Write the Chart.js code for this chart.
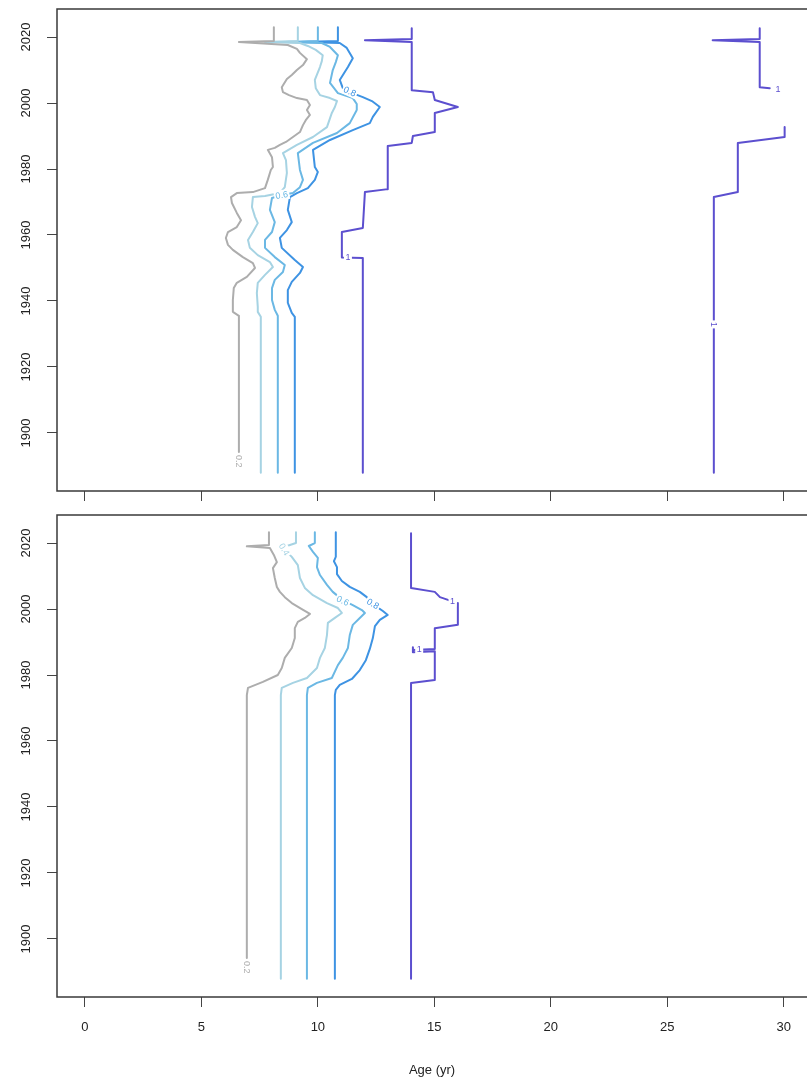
<!DOCTYPE html>
<html>
<head>
<meta charset="utf-8">
<script src="https://cdn.jsdelivr.net/npm/chart.js@4.4.0/dist/chart.umd.min.js"></script>
<style>
html,body{margin:0;padding:0;background:#fff;overflow:hidden;width:807px;height:1090px}
.wrap{position:absolute;left:0;width:807px}
</style>
</head>
<body>
<div class="wrap" style="top:0;height:505px"><canvas id="c1"></canvas></div>
<div class="wrap" style="top:505px;height:585px"><canvas id="c2"></canvas></div>
<script>
// ---------- axis ticks ----------
const xTicks = [0, 5, 10, 15, 20, 25, 30];
const yTicks = [1900, 1920, 1940, 1960, 1980, 2000, 2020];
const xRange = [-1.2, 31.0];
const yRange = [1882.4, 2028.5];
const levelNames = ['0.2', '0.4', '0.6', '0.8', '1'];

// ---------- top panel contour lines: [age, year] ----------
const top02 = [[8.11,2023.0],[8.11,2018.8],[6.61,2018.5],[8.71,2017.6],[9.10,2016.4],[9.23,2015.2],[9.53,2013.3],[9.36,2011.5],[9.10,2010.0],[8.88,2008.5],[8.67,2007.3],[8.45,2004.8],[8.50,2003.3],[8.76,2002.4],[9.10,2001.5],[9.53,2000.9],[9.66,1999.4],[9.53,1997.9],[9.66,1996.4],[9.48,1994.8],[9.36,1993.3],[9.23,1991.2],[8.93,1989.7],[8.63,1988.2],[8.37,1987.3],[8.15,1986.4],[7.85,1985.8],[8.03,1983.6],[8.07,1980.6],[7.98,1979.7],[7.85,1976.7],[7.73,1974.2],[7.21,1973.0],[6.52,1972.7],[6.27,1971.5],[6.31,1969.7],[6.52,1966.7],[6.70,1964.5],[6.52,1962.4],[6.14,1960.9],[6.05,1959.1],[6.14,1957.0],[6.35,1955.5],[6.78,1953.3],[7.21,1951.5],[7.30,1950.0],[6.95,1947.3],[6.52,1945.5],[6.39,1943.9],[6.35,1940.3],[6.35,1936.7],[6.61,1935.5],[6.61,1894.2]];
const top04 = [[9.14,2023.0],[9.14,2018.8],[7.73,2018.5],[9.23,2018.2],[9.57,2017.3],[9.91,2016.1],[10.21,2014.5],[10.17,2012.7],[10.09,2010.9],[9.87,2007.0],[9.91,2004.5],[10.09,2002.4],[10.52,2001.5],[10.82,2000.6],[10.73,1998.8],[10.60,1997.0],[10.39,1992.7],[9.79,1989.7],[9.10,1987.3],[8.50,1984.8],[8.63,1982.7],[8.67,1978.8],[8.58,1974.5],[8.37,1972.7],[7.73,1971.8],[7.21,1971.5],[7.17,1968.5],[7.30,1965.5],[7.42,1963.6],[7.21,1960.9],[7.00,1958.5],[7.08,1956.1],[7.42,1953.9],[7.94,1951.8],[8.07,1950.3],[7.73,1947.9],[7.42,1945.5],[7.38,1942.4],[7.42,1938.2],[7.42,1936.7],[7.55,1935.2],[7.55,1887.9]];
const top06 = [[10.00,2023.0],[10.00,2018.8],[8.58,2018.5],[10.17,2018.2],[10.52,2017.0],[10.86,2014.5],[10.77,2012.4],[10.64,2010.0],[10.52,2006.1],[10.86,2003.0],[11.50,2001.5],[11.67,1999.7],[11.67,1997.9],[11.37,1993.9],[10.82,1990.9],[9.79,1987.9],[9.14,1984.8],[9.23,1979.7],[9.36,1976.7],[9.23,1974.5],[8.93,1972.7],[8.45,1972.1],[8.03,1971.2],[7.94,1967.6],[8.15,1963.9],[8.03,1960.9],[7.73,1958.5],[7.73,1956.1],[8.15,1953.3],[8.58,1950.9],[8.50,1948.8],[8.15,1946.4],[8.03,1943.9],[8.03,1940.3],[8.15,1937.3],[8.28,1935.5],[8.28,1887.9]];
const top08 = [[10.86,2023.0],[10.86,2018.8],[9.23,2018.5],[10.94,2018.2],[11.24,2016.7],[11.50,2013.6],[11.29,2010.9],[10.94,2007.0],[11.07,2004.5],[11.37,2003.3],[11.93,2001.8],[12.32,2000.6],[12.66,1998.8],[12.36,1995.8],[12.23,1993.9],[11.50,1991.8],[10.52,1988.8],[9.79,1985.8],[9.87,1980.6],[10.00,1979.1],[9.87,1976.7],[9.57,1974.2],[9.10,1972.7],[8.80,1971.5],[8.71,1967.6],[8.88,1963.9],[8.67,1961.5],[8.37,1959.1],[8.45,1956.1],[9.01,1952.4],[9.36,1950.3],[9.23,1948.5],[8.88,1945.8],[8.71,1943.3],[8.71,1939.4],[8.88,1936.4],[9.01,1935.2],[9.01,1887.9]];
const top1a = [[14.03,2022.7],[14.03,2019.4],[12.02,2019.0],[14.03,2018.5],[14.03,2003.9],[14.94,2003.3],[15.02,2000.9],[16.01,1998.8],[15.02,1997.0],[15.02,1991.2],[14.08,1990.0],[14.03,1987.9],[13.00,1987.0],[13.00,1973.9],[12.02,1973.0],[11.93,1962.1],[11.03,1960.9],[11.03,1953.2],[11.93,1953.0],[11.93,1887.9]];
const top1b = [[28.97,2022.7],[28.97,2019.4],[26.95,2019.0],[28.97,2018.5],[28.97,2004.8],[29.40,2004.5]];
const top1c = [[30.04,1992.7],[30.04,1989.7],[28.03,1987.9],[28.03,1973.0],[27.00,1971.5],[27.00,1887.9]];

// ---------- bottom panel contour lines: [age, year] ----------
const bot02 = [[7.90,2023.3],[7.90,2019.4],[6.95,2019.0],[7.94,2018.5],[8.11,2016.4],[8.24,2014.2],[8.07,2012.4],[8.15,2009.4],[8.24,2006.7],[8.37,2005.2],[8.58,2003.6],[8.88,2001.8],[9.31,2000.0],[9.66,1998.5],[9.44,1997.3],[9.14,1996.1],[9.01,1994.2],[9.01,1991.2],[8.88,1988.2],[8.58,1985.2],[8.45,1982.1],[8.28,1980.0],[7.64,1977.9],[7.00,1976.1],[6.95,1973.9],[6.95,1894.2]];
const bot04 = [[9.06,2023.3],[9.06,2020.0],[8.67,2019.1],[8.54,2018.2],[8.88,2015.8],[9.14,2013.3],[9.23,2009.4],[9.44,2006.4],[9.79,2004.2],[10.39,2001.8],[10.86,2000.3],[11.03,1998.8],[10.73,1997.3],[10.43,1995.8],[10.39,1992.1],[10.30,1988.2],[10.09,1985.2],[9.96,1982.1],[9.53,1979.1],[8.93,1977.6],[8.45,1976.1],[8.41,1973.9],[8.41,1887.9]];
const bot06 = [[9.87,2023.3],[9.87,2020.0],[9.61,2019.1],[9.79,2017.3],[10.00,2015.5],[9.96,2012.7],[10.09,2010.3],[10.39,2007.3],[10.64,2005.2],[11.07,2002.7],[11.50,2001.2],[11.89,1999.7],[12.02,1998.8],[11.80,1997.3],[11.50,1995.2],[11.37,1992.1],[11.29,1988.2],[11.07,1985.2],[10.86,1983.0],[10.60,1979.1],[9.96,1977.6],[9.57,1976.1],[9.53,1973.9],[9.53,1887.9]];
const bot08 = [[10.77,2023.3],[10.77,2015.8],[10.69,2014.5],[10.82,2012.7],[10.82,2010.6],[11.03,2008.5],[11.37,2006.7],[11.80,2005.2],[12.10,2003.6],[12.36,2001.5],[12.79,1999.4],[13.00,1998.2],[12.66,1996.7],[12.45,1994.8],[12.36,1991.2],[12.23,1987.9],[12.06,1984.5],[11.80,1981.5],[11.46,1978.8],[10.94,1977.0],[10.77,1975.5],[10.73,1973.9],[10.73,1887.9]];
const bot1a = [[14.00,2023.0],[14.00,2006.4],[15.02,2005.2],[15.24,2003.6],[15.62,2002.7]];
const bot1b = [[16.01,2001.8],[16.01,1995.2],[15.02,1994.2],[15.02,1987.9],[14.08,1987.6],[14.08,1988.4],[14.08,1986.9],[15.02,1987.2],[15.02,1978.5],[14.00,1977.6],[14.00,1887.9]];

// ---------- contour labels: [age, year, level index, angle] ----------
const topLabels = [[6.61,1891.4,0,90],[8.45,1972.1,2,-10],[11.37,2003.5,3,25],[11.29,1953.3,4,0],[29.75,2004.3,4,0],[27.00,1932.9,4,90]];
const botLabels = [[6.95,1891.4,0,90],[8.56,2018.1,1,60],[11.07,2002.5,2,25],[12.36,2001.6,3,30],[15.78,2002.3,4,0],[14.35,1987.8,4,0]];

const lineColors = ['#adadad', '#a6d3e3', '#6bb8e4', '#3e93e3', '#5c4fcf'];
const FONT = '"Liberation Sans", Arial, Helvetica, sans-serif';

function ds(arr, lvl) {
  return {
    label: levelNames[lvl],
    data: arr.map(p => ({x: p[0], y: p[1]})),
    showLine: true, borderColor: lineColors[lvl], backgroundColor: lineColors[lvl],
    borderWidth: 2, pointRadius: 0, pointHoverRadius: 0, tension: 0, fill: false,
    borderJoinStyle: 'round', borderCapStyle: 'round'
  };
}

const boxPlugin = {
  id: 'box',
  afterDraw(chart) {
    const {ctx, chartArea: a} = chart;
    ctx.save();
    ctx.strokeStyle = '#3a3a3a'; ctx.lineWidth = 1.5;
    ctx.beginPath();
    ctx.moveTo(a.right + 2, a.top); ctx.lineTo(a.left, a.top);
    ctx.lineTo(a.left, a.bottom); ctx.lineTo(a.right + 2, a.bottom);
    ctx.stroke();
    ctx.restore();
  }
};

function labelPlugin(items) {
  return {
    id: 'contourLabels',
    afterDatasetsDraw(chart) {
      const {ctx} = chart; const xs = chart.scales.x, ys = chart.scales.y;
      items.forEach(it => {
        const px = xs.getPixelForValue(it[0]), py = ys.getPixelForValue(it[1]);
        const txt = levelNames[it[2]];
        ctx.save();
        ctx.translate(px, py); ctx.rotate(it[3] * Math.PI / 180);
        ctx.font = '9px ' + FONT;
        const w = ctx.measureText(txt).width;
        ctx.fillStyle = '#ffffff';
        ctx.fillRect(-w / 2 - 1.5, -5, w + 3, 10);
        ctx.fillStyle = lineColors[it[2]];
        ctx.textAlign = 'center'; ctx.textBaseline = 'middle';
        ctx.fillText(txt, 0, 0.5);
        ctx.restore();
      });
    }
  };
}

function noPad(s) { s.paddingTop = 0; s.paddingBottom = 0; s.paddingLeft = 0; s.paddingRight = 0; }

function makeScales(showLabels) {
  return {
    x: {
      type: 'linear', position: 'bottom', min: xRange[0], max: xRange[1],
      afterBuildTicks: s => { s.ticks = xTicks.map(v => ({value: v})); },
      afterFit: s => { s.height = showLabels ? 93 : 14; noPad(s); },
      ticks: { display: showLabels, padding: 13, color: '#222', autoSkip: false, maxRotation: 0,
               font: {family: FONT, size: 13}, callback: v => String(v) },
      grid: { drawOnChartArea: false, drawTicks: true, tickLength: 10, color: '#444', lineWidth: 1 },
      border: { display: false },
      title: { display: showLabels, text: 'Age (yr)', color: '#222', font: {family: FONT, size: 13},
               padding: {top: 0, bottom: 12} }
    },
    y: {
      type: 'linear', position: 'left', min: yRange[0], max: yRange[1],
      afterBuildTicks: s => { s.ticks = yTicks.map(v => ({value: v})); },
      afterFit: s => { s.width = 57; noPad(s); },
      ticks: { minRotation: 90, maxRotation: 90, crossAlign: 'center', padding: 6, autoSkip: false,
               color: '#222', font: {family: FONT, size: 13}, callback: v => String(v) },
      grid: { drawOnChartArea: false, drawTicks: true, tickLength: 10, color: '#444', lineWidth: 1 },
      border: { display: false }
    }
  };
}

function makeChart(id, datasets, labels, showLabels, padTop) {
  return new Chart(document.getElementById(id), {
    type: 'scatter',
    data: { datasets },
    options: {
      responsive: true, maintainAspectRatio: false, animation: false, events: [],
      layout: { padding: {top: padTop, left: 0, right: 0, bottom: 0}, autoPadding: false },
      plugins: { legend: {display: false}, tooltip: {enabled: false} },
      scales: makeScales(showLabels)
    },
    plugins: [boxPlugin, labelPlugin(labels)]
  });
}

makeChart('c1', [ds(top02,0), ds(top04,1), ds(top06,2), ds(top08,3), ds(top1a,4), ds(top1b,4), ds(top1c,4)], topLabels, false, 9);
makeChart('c2', [ds(bot02,0), ds(bot04,1), ds(bot06,2), ds(bot08,3), ds(bot1a,4), ds(bot1b,4)], botLabels, true, 10);
</script>
</body>
</html>
